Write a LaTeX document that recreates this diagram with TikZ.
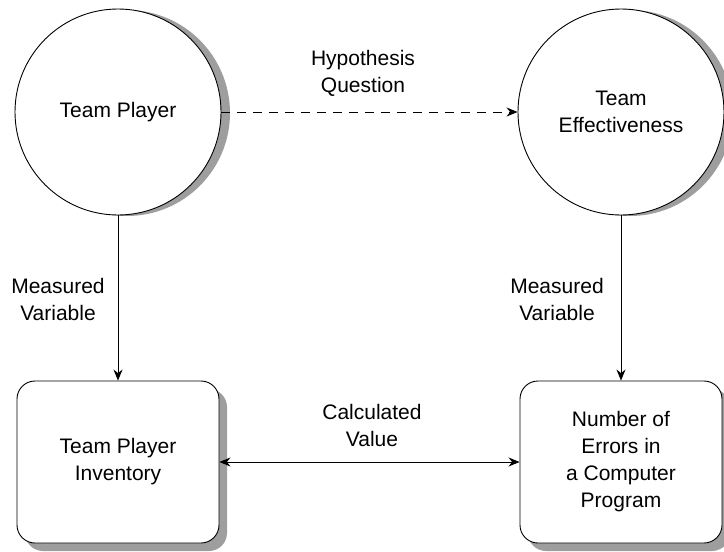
\documentclass[tikz,border=0pt]{standalone}
\usepackage{fontspec}
\setmainfont{Liberation Sans}
\usetikzlibrary{shadows,arrows.meta}

\begin{document}
\begin{tikzpicture}[x=1pt, y=-1pt, line width=0.9pt,
  >={Stealth[length=11pt,width=9pt]},
  every node/.style={font=\fontsize{21}{27}\selectfont, align=center},
  concept/.style={circle, draw, fill=white, minimum size=206pt, inner sep=0pt,
    drop shadow={shadow xshift=9pt, shadow yshift=-1pt, opacity=1, fill=black!38}},
  measure/.style={rectangle, draw, fill=white, rounded corners=18pt,
    minimum width=202pt, minimum height=162pt,
    drop shadow={shadow xshift=8pt, shadow yshift=-8pt, opacity=1, fill=black!38}}]
  \useasboundingbox (0,0) rectangle (724,552);

  % ============ CONCEPTS (TOP ROW) ============
  \node[concept] (player) at (118,112) {Team Player};
  \node[concept] (effect) at (621,112) {Team\\Effectiveness};

  % ============ MEASURES (BOTTOM ROW) ============
  \node[measure] (inventory) at (118,462) {Team Player\\Inventory};
  \node[measure] (errors)    at (621,462) {Number of\\Errors in\\a Computer\\Program};

  % ============ LINKS ============
  \draw[->, dash pattern=on 9pt off 7pt] (player) -- (effect);
  \draw[->] (player) -- (inventory);
  \draw[->] (effect) -- (errors);
  \draw[<->] (inventory) -- (errors);

  % labels beside the links
  \node (hypothesis) at (363,73)  {Hypothesis\\Question};
  \node (measuredA)  at (58,299)  {Measured\\Variable};
  \node (measuredB)  at (557,299) {Measured\\Variable};
  \node (calculated) at (372,425) {Calculated\\Value};
\end{tikzpicture}
\end{document}
